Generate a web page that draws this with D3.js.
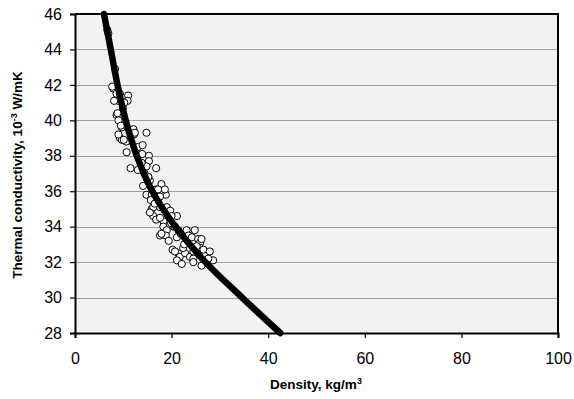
<!DOCTYPE html>
<html>
<head>
<meta charset="utf-8">
<script src="https://cdn.jsdelivr.net/npm/d3@7"></script>
<style>
  body { margin: 0; background: #fff; }
  svg { display: block; font-family: Arial, "Liberation Sans", sans-serif; }
</style>
</head>
<body>
<div id="chart"></div>
<script>
// measured density (kg/m3) and thermal conductivity (10^-3 W/mK)
var density = [6.7, 6.9, 8.3, 7.9, 8.6, 9.0, 11.0, 10.9, 8.6, 9.9, 9.0, 9.7, 9.3, 9.7, 12.1, 12.2, 14.8, 10.6, 10.7, 11.5,
  13.1, 14.0, 12.9, 15.3, 15.3, 14.8, 16.8, 13.0, 14.1, 15.5, 17.9, 18.8, 14.8, 16.2, 10.1, 15.9, 16.8, 17.9, 15.7, 17.2,
  17.6, 19.0, 19.7, 15.9, 16.2, 16.8, 18.3, 18.3, 19.0, 17.6, 18.8, 21.1, 20.0, 20.4, 21.4, 21.1, 23.1, 24.8, 23.5, 24.2,
  25.5, 20.2, 21.4, 21.7, 22.8, 21.1, 23.8, 24.5, 25.9, 25.9, 26.2, 26.9, 28.6, 27.3, 26.2, 18.6, 16.2, 17.6, 20.7, 20.7,
  22.1, 22.4, 23.1, 24.5, 24.5, 26.2, 26.6, 27.6, 8.8, 9.5, 9.0, 12.4, 13.9, 13.8, 15.2, 17.2, 17.6, 7.7, 9.3, 8.1,
  10.2, 15.5, 17.9, 19.4, 22.6, 25.2, 27.9, 21.9, 19.9, 16.5, 14.4];
var conductivity = [45.1, 44.9, 42.9, 41.8, 41.5, 41.1, 41.4, 41.1, 40.3, 40.7, 40.0, 39.6, 39.0, 38.9, 39.5, 39.2, 39.3, 38.8, 38.2, 37.3,
  38.5, 38.6, 38.1, 38.0, 37.7, 37.4, 37.3, 37.2, 36.3, 36.6, 36.4, 35.8, 35.8, 35.9, 38.9, 35.8, 36.1, 36.0, 35.5, 35.4,
  35.1, 35.1, 34.9, 35.0, 34.6, 34.4, 34.3, 34.0, 33.8, 33.5, 33.5, 34.6, 34.6, 34.0, 33.8, 33.4, 33.8, 33.8, 33.5, 33.4,
  33.3, 32.7, 32.5, 32.3, 32.5, 32.1, 32.3, 32.2, 33.1, 32.8, 32.5, 32.4, 32.1, 32.0, 31.8, 36.1, 35.1, 34.5, 34.0, 32.6,
  31.9, 32.8, 33.1, 32.6, 32.0, 33.3, 32.7, 32.2, 40.4, 39.7, 39.2, 39.3, 38.1, 37.6, 36.8, 36.1, 35.7, 41.9, 41.5, 41.1,
  41.0, 34.8, 33.6, 33.2, 33.0, 32.9, 32.6, 33.6, 34.2, 35.3, 37.0];

// fitted curve
var fitDensity = [6.0, 7.4, 8.8, 10.5, 12.8, 16.0, 20.8, 27.0, 34.6, 42.5];
var fitConductivity = [46, 44, 42, 40, 38, 36, 34, 32, 30, 28];

var xTicks = [0, 20, 40, 60, 80, 100];
var yTicks = [28, 30, 32, 34, 36, 38, 40, 42, 44, 46];

var width = 574, height = 399;
var mLeft = 75, mRight = 558, mTop = 14, mBottom = 333;

var svg = d3.select("#chart").append("svg")
    .attr("width", width)
    .attr("height", height);

var x = d3.scaleLinear().domain([0, 100]).range([mLeft, mRight]);
var y = d3.scaleLinear().domain([28, 46]).range([mBottom, mTop]);

svg.append("rect")
    .attr("x", mLeft).attr("y", mTop)
    .attr("width", mRight - mLeft).attr("height", mBottom - mTop)
    .attr("fill", "#f2f2f2");

svg.append("g")
    .selectAll("line")
    .data(yTicks.slice(1, -1))
    .join("line")
    .attr("x1", mLeft).attr("x2", mRight)
    .attr("y1", d => Math.round(y(d)) + 0.5).attr("y2", d => Math.round(y(d)) + 0.5)
    .attr("stroke", "#a0a0a0")
    .attr("stroke-width", 1);

// frame top and right
svg.append("path")
    .attr("d", `M${mLeft},${mTop}H${mRight}V${mBottom}`)
    .attr("fill", "none")
    .attr("stroke", "#000")
    .attr("stroke-width", 2);

var xAxis = svg.append("g")
    .attr("transform", `translate(0,${mBottom})`)
    .call(d3.axisBottom(x).tickValues(xTicks).tickSize(5).tickPadding(15));
var yAxis = svg.append("g")
    .attr("transform", `translate(${mLeft},0)`)
    .call(d3.axisLeft(y).tickValues(yTicks).tickSize(5).tickPadding(8));

[xAxis, yAxis].forEach(a => {
    a.select(".domain").attr("stroke", "#000").attr("stroke-width", 2);
    a.selectAll(".tick line").attr("stroke", "#000").attr("stroke-width", 1.2);
    a.selectAll(".tick text")
        .attr("fill", "#000")
        .style("font-size", "16px")
        .style("font-family", "Arial, 'Liberation Sans', sans-serif");
});

// scatter
var pts = density.map((d, i) => [d, conductivity[i]]);
svg.append("g")
    .selectAll("circle")
    .data(pts)
    .join("circle")
    .attr("cx", d => x(d[0]))
    .attr("cy", d => y(d[1]))
    .attr("r", 3.6)
    .attr("fill", "#fff")
    .attr("stroke", "#000")
    .attr("stroke-width", 1);

// fit curve
var fit = fitDensity.map((d, i) => [d, fitConductivity[i]]);
svg.append("path")
    .datum(fit)
    .attr("d", d3.line().x(d => x(d[0])).y(d => y(d[1])).curve(d3.curveMonotoneY))
    .attr("fill", "none")
    .attr("stroke", "#000")
    .attr("stroke-width", 6.5)
    .attr("stroke-linecap", "round");

// axis titles
var xt = svg.append("text")
    .attr("x", 316).attr("y", 389)
    .attr("text-anchor", "middle")
    .style("font-size", "13.5px")
    .style("font-weight", "bold")
    .text("Density, kg/m");
xt.append("tspan").attr("dy", -5).style("font-size", "9px").text("3");

var yt = svg.append("text")
    .attr("transform", "translate(22,175) rotate(-90)")
    .attr("text-anchor", "middle")
    .style("font-size", "13.5px")
    .style("font-weight", "bold")
    .text("Thermal conductivity, 10");
yt.append("tspan").attr("dy", -5).style("font-size", "9px").text("-3");
yt.append("tspan").attr("dy", 5).text(" W/mK");
</script>
</body>
</html>
